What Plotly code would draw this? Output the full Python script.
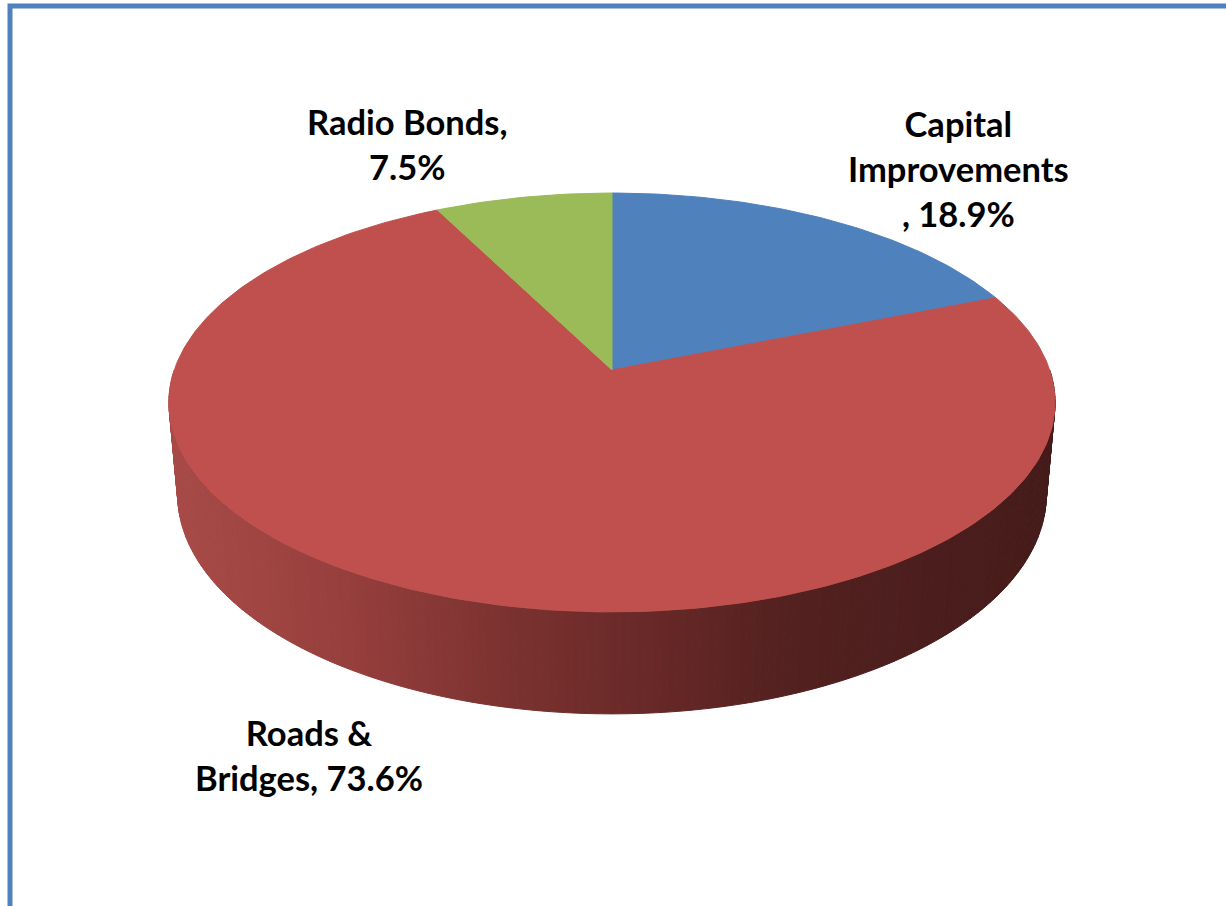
import numpy as np
import plotly.graph_objects as go

# ---- data ----
labels = ["Capital Improvements", "Roads & Bridges", "Radio Bonds"]
values = [18.9, 73.6, 7.5]
colors = ["#4F81BD", "#C0504D", "#9BBB59"]
label_text = ["Capital<br>Improvements<br>, {}%", "Roads &<br>Bridges, {}%", "Radio Bonds,<br>{}%"]
label_pos = [(958, 168), (309, 755), (407, 144)]

# ---- 3D perspective setup (canvas pixels) ----
W, HGT = 1226, 906
CX, CY = 612.0, 370.0          # projected centre of the top face
K = 65.0 / 419.0               # perspective foreshortening
SIN_P = 0.467                  # camera elevation
COS_P = np.sqrt(1 - SIN_P ** 2)
D = COS_P / K
F = 437.7 * D
THICK = 0.24                   # pie thickness relative to radius


def proj(x, y, z):
    depth = D - y * SIN_P + z * COS_P
    up = y * COS_P + z * SIN_P
    return CX + F * x / depth, CY - F * up / depth


def rim(theta, y):
    return proj(np.sin(theta), y, np.cos(theta))


# side wall gradient (by horizontal position)
grad_x = [175, 350, 500, 650, 800, 1050]
grad_c = [(168, 75, 72), (150, 63, 61), (124, 51, 49), (104, 41, 40), (82, 33, 32), (70, 28, 27)]


def side_color(px):
    r, g, b = (np.interp(px, grad_x, [c[i] for c in grad_c]) for i in range(3))
    return f"rgb({int(r)},{int(g)},{int(b)})"


fig = go.Figure()

# side wall strips across the visible front half
n_strips = 200
th = np.linspace(np.pi / 2, 3 * np.pi / 2, n_strips + 1)
for a0, a1 in zip(th[:-1], th[1:]):
    tx0, ty0 = rim(a0, 0.0)
    tx1, ty1 = rim(a1, 0.0)
    bx1, by1 = rim(a1, -THICK)
    bx0, by0 = rim(a0, -THICK)
    col = side_color((tx0 + tx1) / 2)
    fig.add_trace(go.Scatter(
        x=[tx0, tx1, bx1, bx0, tx0], y=[ty0, ty1, by1, by0, ty0],
        mode="lines", fill="toself", fillcolor=col,
        line=dict(color=col, width=1), hoverinfo="skip", showlegend=False))

# top face slices, clockwise from 12 o'clock
total = sum(values)
start = 0.0
for lab, val, col in zip(labels, values, colors):
    a0 = 2 * np.pi * start / total
    a1 = 2 * np.pi * (start + val) / total
    n = max(int(400 * val / total), 8)
    ang = np.linspace(a0, a1, n)
    ex, ey = rim(ang, 0.0)
    cx0, cy0 = proj(0, 0, 0)
    xs = np.concatenate([[cx0], ex, [cx0]])
    ys = np.concatenate([[cy0], ey, [cy0]])
    fig.add_trace(go.Scatter(
        x=xs, y=ys, mode="lines", fill="toself", fillcolor=col,
        line=dict(color=col, width=1), name=lab, hoverinfo="name", showlegend=False))
    start += val

# data labels
for txt, val, (lx, ly) in zip(label_text, values, label_pos):
    fig.add_annotation(x=lx, y=ly, text="<b>" + txt.format(val) + "</b>",
                       showarrow=False, xanchor="center", yanchor="middle",
                       align="center",
                       font=dict(family="Lato, Open Sans, sans-serif", size=34.5, color="#000000"))

# chart-area frame
fig.add_shape(type="path", path=f"M 10 {HGT + 20} L 10 6 L {W + 20} 6",
              xref="x", yref="y", line=dict(color="#4F81BD", width=5))

fig.update_layout(
    width=W, height=HGT, autosize=False,
    margin=dict(l=0, r=0, t=0, b=0, pad=0),
    paper_bgcolor="white", plot_bgcolor="white",
    xaxis=dict(range=[0, W], visible=False, fixedrange=True),
    yaxis=dict(range=[HGT, 0], visible=False, fixedrange=True),
)

fig.write_html("out.html")
